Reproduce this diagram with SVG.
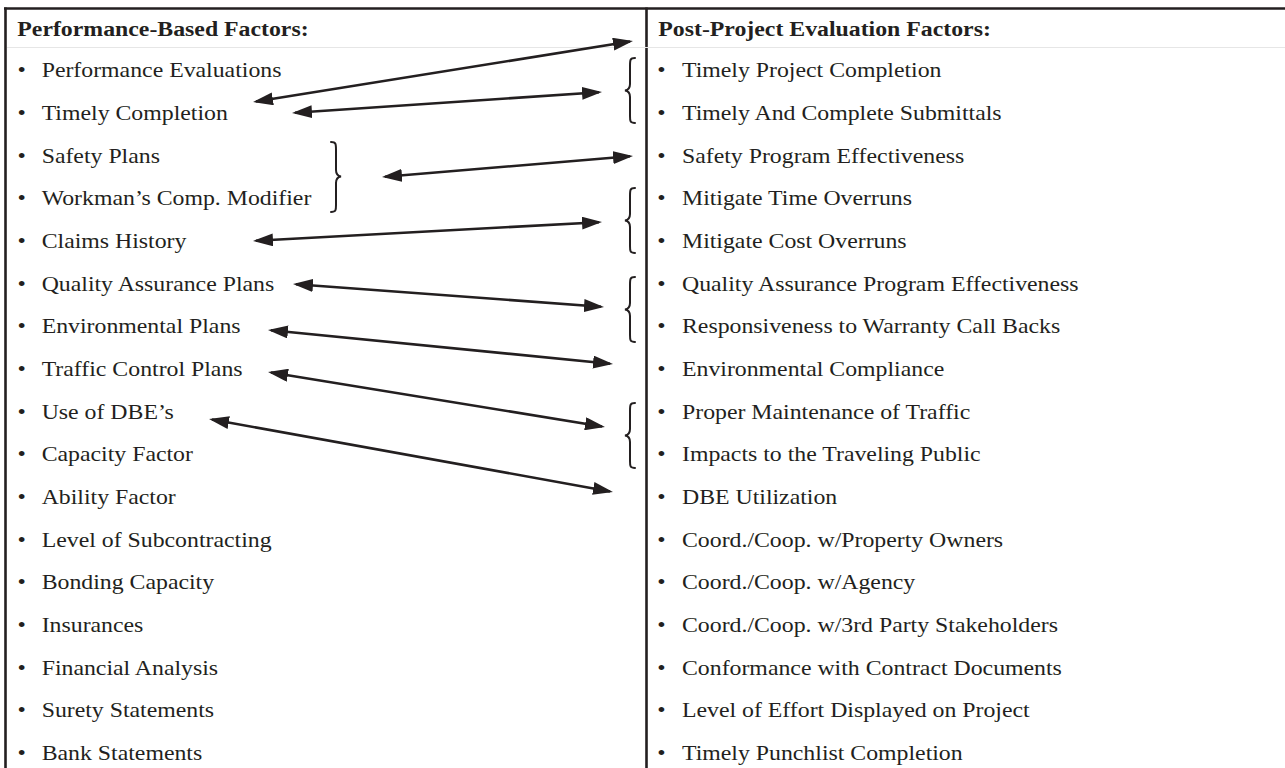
<svg xmlns="http://www.w3.org/2000/svg" width="1285" height="768" viewBox="0 0 1285 768">
  <style>
    text { font-family: "Liberation Serif", "Times New Roman", serif; font-size: 22px; fill: #231f20; }
    .hd { font-weight: bold; }
    .frame { stroke: #231f20; stroke-width: 2.6; fill: none; }
    .rule { stroke: #e6e6e6; stroke-width: 1; }
    .brace { stroke: #231f20; stroke-width: 2; fill: none; stroke-linecap: round; }
    .link { stroke: #231f20; stroke-width: 2.6; fill: none; marker-start: url(#head); marker-end: url(#head); }
  </style>
  <defs>
    <marker id="head" markerUnits="userSpaceOnUse" markerWidth="20" markerHeight="13" refX="17" refY="6.5" orient="auto-start-reverse">
      <path d="M0,0 L20,6.5 L0,13 z" fill="#231f20"/>
    </marker>
  </defs>
  <rect width="1285" height="768" fill="#ffffff"/>

  <!-- table frame -->
  <g id="frame">
    <line class="frame" x1="4" y1="8.5" x2="1285" y2="8.5"/>
    <line class="frame" x1="5.5" y1="7.5" x2="5.5" y2="768"/>
    <line class="frame" x1="646.5" y1="7.5" x2="646.5" y2="768"/>
    <line class="rule" x1="7" y1="47.5" x2="1285" y2="47.5"/>
  </g>

  <!-- left column: performance-based factors -->
  <g id="performance-factors" transform="scale(1.082 1)">
    <text class="hd" x="16" y="36.5">Performance-Based Factors:</text>
    <g id="pf-bullets">
      <text x="16.2" y="77.3">•</text><text x="16.2" y="120">•</text><text x="16.2" y="162.6">•</text>
      <text x="16.2" y="205.3">•</text><text x="16.2" y="248">•</text><text x="16.2" y="290.6">•</text>
      <text x="16.2" y="333.3">•</text><text x="16.2" y="376">•</text><text x="16.2" y="418.7">•</text>
      <text x="16.2" y="461.3">•</text><text x="16.2" y="504">•</text><text x="16.2" y="546.7">•</text>
      <text x="16.2" y="589.3">•</text><text x="16.2" y="632">•</text><text x="16.2" y="674.7">•</text>
      <text x="16.2" y="717.3">•</text><text x="16.2" y="760">•</text>
    </g>
    <text id="pf-01" x="38.5" y="77.3">Performance Evaluations</text>
    <text id="pf-02" x="38.5" y="120">Timely Completion</text>
    <text id="pf-03" x="38.5" y="162.6">Safety Plans</text>
    <text id="pf-04" x="38.5" y="205.3">Workman’s Comp. Modifier</text>
    <text id="pf-05" x="38.5" y="248">Claims History</text>
    <text id="pf-06" x="38.5" y="290.6">Quality Assurance Plans</text>
    <text id="pf-07" x="38.5" y="333.3">Environmental Plans</text>
    <text id="pf-08" x="38.5" y="376">Traffic Control Plans</text>
    <text id="pf-09" x="38.5" y="418.7">Use of DBE’s</text>
    <text id="pf-10" x="38.5" y="461.3">Capacity Factor</text>
    <text id="pf-11" x="38.5" y="504">Ability Factor</text>
    <text id="pf-12" x="38.5" y="546.7">Level of Subcontracting</text>
    <text id="pf-13" x="38.5" y="589.3">Bonding Capacity</text>
    <text id="pf-14" x="38.5" y="632">Insurances</text>
    <text id="pf-15" x="38.5" y="674.7">Financial Analysis</text>
    <text id="pf-16" x="38.5" y="717.3">Surety Statements</text>
    <text id="pf-17" x="38.5" y="760">Bank Statements</text>
  </g>

  <!-- right column: post-project evaluation factors -->
  <g id="post-project-factors" transform="scale(1.082 1)">
    <text class="hd" x="608.4" y="36.5">Post-Project Evaluation Factors:</text>
    <g id="pp-bullets">
      <text x="607.5" y="77.3">•</text><text x="607.5" y="120">•</text><text x="607.5" y="162.6">•</text>
      <text x="607.5" y="205.3">•</text><text x="607.5" y="248">•</text><text x="607.5" y="290.6">•</text>
      <text x="607.5" y="333.3">•</text><text x="607.5" y="376">•</text><text x="607.5" y="418.7">•</text>
      <text x="607.5" y="461.3">•</text><text x="607.5" y="504">•</text><text x="607.5" y="546.7">•</text>
      <text x="607.5" y="589.3">•</text><text x="607.5" y="632">•</text><text x="607.5" y="674.7">•</text>
      <text x="607.5" y="717.3">•</text><text x="607.5" y="760">•</text>
    </g>
    <text id="pp-01" x="630.3" y="77.3">Timely Project Completion</text>
    <text id="pp-02" x="630.3" y="120">Timely And Complete Submittals</text>
    <text id="pp-03" x="630.3" y="162.6">Safety Program Effectiveness</text>
    <text id="pp-04" x="630.3" y="205.3">Mitigate Time Overruns</text>
    <text id="pp-05" x="630.3" y="248">Mitigate Cost Overruns</text>
    <text id="pp-06" x="630.3" y="290.6">Quality Assurance Program Effectiveness</text>
    <text id="pp-07" x="630.3" y="333.3">Responsiveness to Warranty Call Backs</text>
    <text id="pp-08" x="630.3" y="376">Environmental Compliance</text>
    <text id="pp-09" x="630.3" y="418.7">Proper Maintenance of Traffic</text>
    <text id="pp-10" x="630.3" y="461.3">Impacts to the Traveling Public</text>
    <text id="pp-11" x="630.3" y="504">DBE Utilization</text>
    <text id="pp-12" x="630.3" y="546.7">Coord./Coop. w/Property Owners</text>
    <text id="pp-13" x="630.3" y="589.3">Coord./Coop. w/Agency</text>
    <text id="pp-14" x="630.3" y="632">Coord./Coop. w/3rd Party Stakeholders</text>
    <text id="pp-15" x="630.3" y="674.7">Conformance with Contract Documents</text>
    <text id="pp-16" x="630.3" y="717.3">Level of Effort Displayed on Project</text>
    <text id="pp-17" x="630.3" y="760">Timely Punchlist Completion</text>
  </g>

  <!-- grouping braces -->
  <g id="braces">
    <path id="brace-timely" class="brace" d="M635,58 C630,58 630,60 630,66 L630,84 C630,88 628,90 625,90.5 C628,91 630,93 630,97 L630,116 C630,121 630,123 635,123"/>
    <path id="brace-safety" class="brace" d="M331,142 C336,142 336,144 336,150 L336,170 C336,174 338,176 341,176.5 C338,177 336,179 336,183 L336,205 C336,210 336,212 331,212"/>
    <path id="brace-overruns" class="brace" d="M635,188 C630,188 630,190 630,196 L630,214 C630,218 628,220 625,220.5 C628,221 630,223 630,227 L630,246 C630,251 630,253 635,253"/>
    <path id="brace-quality" class="brace" d="M635,277 C630,277 630,279 630,285 L630,303 C630,307 628,309 625,309.5 C628,310 630,312 630,316 L630,335 C630,340 630,342 635,342"/>
    <path id="brace-traffic" class="brace" d="M635,403 C630,403 630,405 630,411 L630,429 C630,433 628,435 625,435.5 C628,436 630,438 630,442 L630,461 C630,466 630,468 635,468"/>
  </g>

  <!-- two-way links between the columns -->
  <g id="connectors">
    <line class="link" x1="256" y1="101.5" x2="630" y2="41.5"/>
    <line class="link" x1="295" y1="112.8" x2="599" y2="92.2"/>
    <line class="link" x1="385" y1="176.8" x2="630" y2="156.2"/>
    <line class="link" x1="256" y1="240.8" x2="599" y2="222.2"/>
    <line class="link" x1="296" y1="284.2" x2="601" y2="306.8"/>
    <line class="link" x1="271" y1="330.3" x2="610" y2="363.7"/>
    <line class="link" x1="271" y1="372.5" x2="602" y2="426.5"/>
    <line class="link" x1="212" y1="419.5" x2="610" y2="491.5"/>
  </g>
</svg>
